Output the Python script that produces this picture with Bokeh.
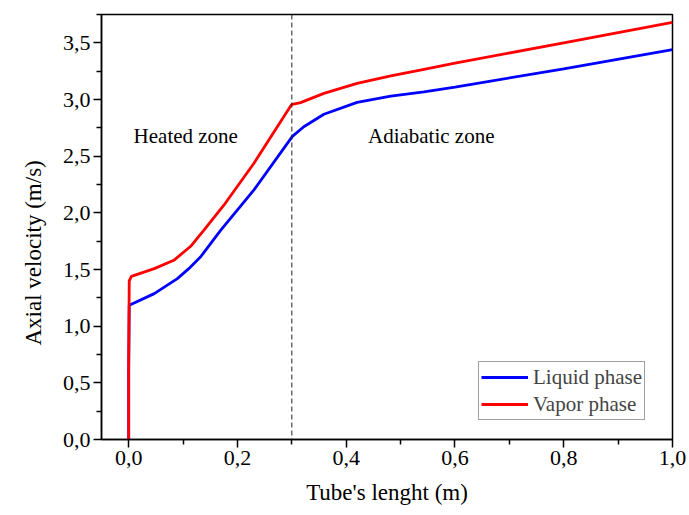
import math
from bokeh.plotting import figure
from bokeh.models import FixedTicker, Span, Title, Legend, LegendItem, ColumnDataSource
from bokeh.core.properties import value
from bokeh.embed import file_html
from bokeh.resources import INLINE

# ---- data ----
liquid_x = [0.0, 0.0, 0.001, 0.047, 0.0895, 0.11, 0.132, 0.169, 0.23, 0.301, 0.322, 0.359, 0.42, 0.482, 0.543, 0.6, 0.8, 1.0]
liquid_y = [0.0, 0.6, 1.184, 1.287, 1.42, 1.505, 1.61, 1.846, 2.2, 2.675, 2.76, 2.87, 2.975, 3.03, 3.068, 3.11, 3.27, 3.44]

vapor_x = [0.0, 0.0, 0.001, 0.005, 0.047, 0.083, 0.114, 0.138, 0.175, 0.23, 0.299, 0.301, 0.316, 0.359, 0.42, 0.482, 0.543, 0.6, 0.8, 1.0]
vapor_y = [0.0, 0.7, 1.40, 1.44, 1.508, 1.581, 1.705, 1.846, 2.067, 2.435, 2.952, 2.958, 2.972, 3.054, 3.142, 3.208, 3.266, 3.32, 3.50, 3.68]

x_ticks = [0.0, 0.2, 0.4, 0.6, 0.8, 1.0]
x_tick_labels = ["0,0", "0,2", "0,4", "0,6", "0,8", "1,0"]
x_minor = [-0.1, 0.1, 0.3, 0.5, 0.7, 0.9]
y_ticks = [0.0, 0.5, 1.0, 1.5, 2.0, 2.5, 3.0, 3.5]
y_tick_labels = ["0,0", "0,5", "1,0", "1,5", "2,0", "2,5", "3,0", "3,5"]
y_minor = [0.25, 0.75, 1.25, 1.75, 2.25, 2.75, 3.25, 3.75]

zone_boundary = 0.3
series_names = ["Liquid phase", "Vapor phase"]
zone_names = ["Heated zone", "Adiabatic zone"]
x_title = "Tube's lenght (m)"
y_title = "Axial velocity (m/s)"

FONT = "Liberation Serif"

p = figure(width=689, height=515, x_range=(-0.05, 1.0), y_range=(0.0, 3.75),
           output_backend="svg", toolbar_location=None,
           min_border_left=101, min_border_right=17, min_border_top=14, min_border_bottom=76)
p.grid.visible = False
p.background_fill_color = "white"
p.border_fill_color = "white"
p.outline_line_color = "black"
p.outline_line_width = 1.5

for ax in (p.xaxis[0], p.yaxis[0]):
    ax.axis_line_color = "black"
    ax.axis_line_width = 1.5
    ax.major_tick_line_width = 1.5
    ax.minor_tick_line_width = 1.5
    ax.major_tick_in = 0
    ax.major_tick_out = 8
    ax.minor_tick_in = 0
    ax.minor_tick_out = 5
    ax.major_label_text_font = FONT
    ax.major_label_text_font_size = "22px"
    ax.major_label_text_color = "black"

p.xaxis[0].ticker = FixedTicker(ticks=x_ticks, minor_ticks=x_minor)
p.xaxis[0].major_label_overrides = dict(zip(x_ticks, x_tick_labels))
p.xaxis[0].major_label_standoff = 3
p.xaxis[0].axis_label = x_title
p.xaxis[0].axis_label_text_font = FONT
p.xaxis[0].axis_label_text_font_size = "23px"
p.xaxis[0].axis_label_text_font_style = "normal"
p.xaxis[0].axis_label_text_color = "black"
p.xaxis[0].axis_label_standoff = 12

p.yaxis[0].ticker = FixedTicker(ticks=y_ticks, minor_ticks=y_minor)
p.yaxis[0].major_label_overrides = dict(zip(y_ticks, y_tick_labels))
p.yaxis[0].major_label_standoff = 3

# y title as a side title, anchored from the bottom of the frame
p.add_layout(Title(text=y_title, align="left", offset=94, standoff=28,
                   text_font=FONT, text_font_size="23px", text_font_style="normal",
                   text_color="black"), "left")

# zone boundary
p.add_layout(Span(location=zone_boundary, dimension="height", line_color="#222222",
                  line_width=1, line_dash="5 3"))

r_liq = p.line(liquid_x, liquid_y, line_color="#0000FF", line_width=2.8)
r_vap = p.line(vapor_x, vapor_y, line_color="#FF0000", line_width=2.8)

zone_src = ColumnDataSource(dict(x=[0.009, 0.44], y=[2.677, 2.677], t=zone_names))
p.text(x="x", y="y", text="t", source=zone_src, text_font=value(FONT),
       text_font_size="21px", text_align="left", text_baseline="alphabetic",
       text_color="black")

legend = Legend(items=[LegendItem(label=series_names[0], renderers=[r_liq]),
                       LegendItem(label=series_names[1], renderers=[r_vap])],
                location=(377, 19))
legend.label_text_font = FONT
legend.label_text_font_size = "21px"
legend.glyph_width = 47
legend.glyph_height = 26
legend.label_height = 26
legend.label_standoff = 5
legend.padding = 2
legend.spacing = 1
legend.margin = 0
legend.border_line_color = "#404040"
legend.border_line_width = 1
legend.background_fill_alpha = 1.0
p.add_layout(legend)

open("out.html", "w").write(file_html(p, INLINE))
